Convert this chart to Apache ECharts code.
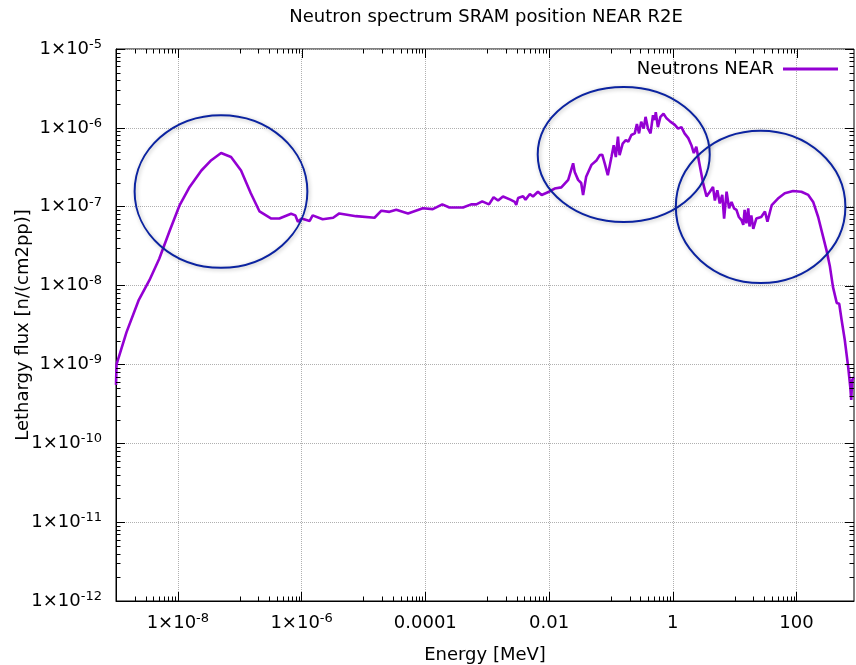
<!DOCTYPE html>
<html><head><meta charset="utf-8">
<script src="https://cdn.jsdelivr.net/npm/echarts@6/dist/echarts.min.js"></script>
<style>html,body{margin:0;padding:0;background:#fff}#c{width:856px;height:665px}</style>
</head><body><div id="c"></div>
<script>
// ---- data ----
const energyMeV = [1.0e-9,1.02e-9,1.48e-9,2.34e-9,3.47e-9,5.0e-9,7.4e-9,
 1.07e-8,1.55e-8,2.4e-8,3.47e-8,5.0e-8,7.24e-8,1.05e-7,
 1.51e-7,2.09e-7,3.24e-7,4.37e-7,6.76e-7,7.94e-7,8.71e-7,
 1.0e-6,1.35e-6,1.51e-6,2.19e-6,3.24e-6,4.07e-6,7.59e-6,
 1.51e-5,1.95e-5,2.63e-5,3.39e-5,5.25e-5,9.12e-5,1.32e-4,
 1.88e-4,2.45e-4,4.07e-4,5.5e-4,6.68e-4,8.32e-4,1.07e-3,
 1.27e-3,1.50e-3,1.80e-3,2.37e-3,2.79e-3,2.95e-3,3.16e-3,
 3.80e-3,4.17e-3,4.90e-3,5.5e-3,6.61e-3,7.59e-3,1.0e-2,
 1.23e-2,1.58e-2,2.04e-2,2.45e-2,2.60e-2,2.95e-2,3.31e-2,
 3.55e-2,3.98e-2,4.84e-2,5.89e-2,6.61e-2,7.24e-2,7.94e-2,
 8.91e-2,0.102,0.111,0.120,0.130,0.138,0.155,
 0.174,0.191,0.214,0.243,0.263,0.285,0.309,
 0.339,0.363,0.398,0.437,0.479,0.513,0.531,
 0.575,0.631,0.708,0.794,0.912,1.07,1.22,
 1.38,1.55,1.78,2.0,2.19,2.40,2.75,
 3.09,3.51,3.98,4.47,4.79,5.25,5.75,
 6.31,6.76,7.41,8.13,8.91,9.77,10.7,
 11.7,12.9,13.8,14.5,15.5,16.6,17.4,
 18.6,20.0,22.4,26.9,30.9,33.9,39.8,
 50.1,64.6,88.1,120,155,186,224,
 269,305,347,389,447,490,537,
 603,684,741,767,794,850];
const lethargyFlux = [5.5e-10,1.0e-9,2.57e-9,6.6e-9,1.17e-8,2.19e-8,5.0e-8,
 1.05e-7,1.78e-7,2.88e-7,3.89e-7,4.79e-7,4.27e-7,2.88e-7,
 1.48e-7,8.7e-8,7.08e-8,7.08e-8,8.13e-8,7.76e-8,6.46e-8,
 7.08e-8,6.61e-8,7.76e-8,6.92e-8,7.24e-8,8.22e-8,7.59e-8,
 7.24e-8,8.91e-8,8.61e-8,9.12e-8,8.22e-8,9.55e-8,9.33e-8,
 1.07e-7,9.77e-8,9.77e-8,1.07e-7,1.07e-7,1.17e-7,1.07e-7,
 1.32e-7,1.20e-7,1.35e-7,1.23e-7,1.15e-7,1.05e-7,1.29e-7,
 1.36e-7,1.23e-7,1.45e-7,1.35e-7,1.55e-7,1.41e-7,1.55e-7,
 1.70e-7,1.76e-7,2.19e-7,3.55e-7,2.75e-7,2.19e-7,2.0e-7,
 1.41e-7,2.40e-7,3.39e-7,3.89e-7,4.52e-7,4.57e-7,3.55e-7,
 2.51e-7,4.27e-7,6.03e-7,4.27e-7,7.76e-7,4.52e-7,6.31e-7,
 7.0e-7,6.68e-7,8.13e-7,8.51e-7,1.12e-6,8.51e-7,1.20e-6,
 9.77e-7,1.38e-6,9.77e-7,8.51e-7,1.45e-6,1.26e-6,1.58e-6,
 1.02e-6,1.38e-6,1.51e-6,1.32e-6,1.20e-6,1.10e-6,9.77e-7,
 1.02e-6,8.51e-7,7.41e-7,6.03e-7,4.79e-7,5.75e-7,3.24e-7,
 2.0e-7,1.35e-7,1.55e-7,1.78e-7,1.20e-7,1.62e-7,1.10e-7,
 1.41e-7,7.08e-8,1.55e-7,9.55e-8,1.15e-7,9.55e-8,9.12e-8,
 7.41e-8,6.76e-8,5.89e-8,9.12e-8,6.17e-8,9.55e-8,5.62e-8,
 7.76e-8,5.25e-8,7.08e-8,7.41e-8,8.71e-8,6.46e-8,1.05e-7,
 1.27e-7,1.48e-7,1.58e-7,1.55e-7,1.41e-7,1.15e-7,7.41e-8,
 4.17e-8,2.82e-8,1.74e-8,9.55e-9,6.03e-9,5.89e-9,3.63e-9,
 2.04e-9,9.33e-10,5.13e-10,3.55e-10,6.31e-10,6.92e-10];

const seriesName = 'Neutrons NEAR';
const xMajorTicks = [1e-8, 1e-6, 1e-4, 1e-2, 1, 100];
const yMajorTicks = [1e-12, 1e-11, 1e-10, 1e-9, 1e-8, 1e-7, 1e-6, 1e-5];
const xRange = [1e-9, 850];
const yRange = [1e-12, 1e-5];
// annotation ellipses (bounding boxes in data units)
const ellipseEnergy = [[2.0e-9, 1.24e-6], [6.56e-3, 3.96], [1.12, 617]];
const ellipseFlux = [[1.68e-8, 1.45e-6], [6.4e-8, 3.3e-6], [1.08e-8, 9.18e-7]];

// minor tick values (gnuplot style)
const xMinorTicks = [];
xMajorTicks.forEach(M => { for (let k = 1; k <= 9; k++) { const v = M * k / 10; if (v >= xRange[0] && v <= xRange[1]) xMinorTicks.push(v); } });
const yMinorTicks = [];
yMajorTicks.slice(0, -1).forEach(d => { for (let k = 2; k <= 9; k++) yMinorTicks.push(d * k); });

const FONT = 'DejaVu Sans';
const TXT = '#000';

function expOf(v) { return Math.round(Math.log10(v)); }
function xLabel(v) {
  const e = expOf(v);
  if (e <= -5) return '1×10{sup|' + e + '}';
  if (e < 0) return '0.' + '0'.repeat(-e - 1) + '1';
  return '1' + '0'.repeat(e);
}
function yLabel(v) { return '1×10{sup|' + expOf(v) + '}'; }
const richSup = { sup: { fontSize: 13, fontFamily: FONT, color: TXT, verticalAlign: 'top', lineHeight: 13 } };

const chart = echarts.init(document.getElementById('c'), null, { renderer: 'canvas' });

function tickRender(params, api) {
  const ch = [];
  const bl = api.coord([xRange[0], yRange[0]]);
  const tr = api.coord([xRange[1], yRange[1]]);
  const x0 = bl[0], y0 = bl[1], x1 = tr[0], y1 = tr[1];
  const MAJ = 9, MIN = 4.5;
  const add = (a, b, c, d) => ch.push({ type: 'line', shape: { x1: a, y1: b, x2: c, y2: d }, style: { stroke: '#000', lineWidth: 1 } });
  const px = v => Math.round(api.coord([v, yRange[0]])[0]) + 0.5;
  const py = v => Math.round(api.coord([xRange[0], v])[1]) + 0.5;
  xMinorTicks.forEach(v => { const x = px(v); add(x, y0, x, y0 - MIN); add(x, y1, x, y1 + MIN); });
  xMajorTicks.forEach(v => { const x = px(v); add(x, y1, x, y1 + MAJ); });
  yMinorTicks.forEach(v => { const y = py(v); add(x0, y, x0 + MIN, y); add(x1, y, x1 - MIN, y); });
  yMajorTicks.forEach(v => { const y = py(v); add(x1, y, x1 - MAJ, y); });
  return { type: 'group', children: ch };
}

function ellipseRender(params, api) {
  const a = api.coord([api.value(0), api.value(1)]);
  const b = api.coord([api.value(2), api.value(3)]);
  return {
    type: 'ellipse',
    shape: { cx: (a[0] + b[0]) / 2, cy: (a[1] + b[1]) / 2, rx: Math.abs(b[0] - a[0]) / 2, ry: Math.abs(b[1] - a[1]) / 2 },
    style: { fill: 'none', stroke: '#0b23a0', lineWidth: 2, shadowBlur: 4, shadowColor: 'rgba(0,0,0,0.28)', shadowOffsetX: 1, shadowOffsetY: 1 }
  };
}

chart.setOption({
  animation: false,
  backgroundColor: '#fff',
  textStyle: { fontFamily: FONT },
  title: {
    text: 'Neutron spectrum SRAM position NEAR R2E',
    left: 486, top: 8, padding: 0, textAlign: 'center',
    textStyle: { fontFamily: FONT, fontSize: 18, fontWeight: 'normal', color: TXT }
  },
  legend: {
    data: [seriesName], right: 18, top: 59, padding: 0, align: 'right',
    icon: 'rect', itemWidth: 55, itemHeight: 3,
    textStyle: { fontFamily: FONT, fontSize: 18, color: TXT, lineHeight: 20, padding: [0, 4, 0, 0] }
  },
  grid: { left: 116, top: 49, width: 738, height: 552, show: true, borderColor: '#000', borderWidth: 1, backgroundColor: 'transparent', containLabel: false, outerBoundsMode: 'none' },
  xAxis: {
    type: 'log', logBase: 10, min: xRange[0], max: xRange[1],
    name: 'Energy [MeV]', nameLocation: 'middle', nameGap: 45, nameMoveOverlap: false,
    nameTextStyle: { fontFamily: FONT, fontSize: 18, color: TXT },
    axisLine: { show: true, lineStyle: { color: '#000', width: 1 } },
    axisTick: { show: true, inside: true, length: 9, customValues: xMajorTicks, lineStyle: { color: '#000' } },
    axisLabel: { customValues: xMajorTicks, margin: 11, formatter: xLabel, fontFamily: FONT, fontSize: 18, color: TXT, lineHeight: 22, rich: richSup },
    splitLine: { show: true, lineStyle: { color: '#b0b0b0', type: 'dotted', width: 1 } }
  },
  yAxis: {
    type: 'log', logBase: 10, min: yRange[0], max: yRange[1], interval: 1,
    name: 'Lethargy flux [n/(cm2pp)]', nameLocation: 'middle', nameGap: 84, nameRotate: 90, nameMoveOverlap: false,
    nameTextStyle: { fontFamily: FONT, fontSize: 18, color: TXT },
    axisLine: { show: true, lineStyle: { color: '#000', width: 1 } },
    axisTick: { show: true, inside: true, length: 9, lineStyle: { color: '#000' } },
    axisLabel: { margin: 14, formatter: yLabel, fontFamily: FONT, fontSize: 18, color: TXT, lineHeight: 22, rich: richSup },
    splitLine: { show: true, lineStyle: { color: '#b0b0b0', type: 'dotted', width: 1 } }
  },
  series: [
    {
      name: seriesName, type: 'line', showSymbol: false, symbol: 'none',
      data: energyMeV.map((e, i) => [e, lethargyFlux[i]]),
      lineStyle: { color: '#9400d3', width: 2.6 }, itemStyle: { color: '#9400d3' },
      z: 3, clip: true
    },
    {
      name: 'ticks', type: 'custom', renderItem: tickRender, silent: true, clip: false, z: 5,
      data: [[1, 1e-8]], encode: { x: 0, y: 1 }
    },
    {
      name: 'circles', type: 'custom', renderItem: ellipseRender, silent: true, clip: false, z: 6,
      data: ellipseEnergy.map((e, i) => [e[0], ellipseFlux[i][0], e[1], ellipseFlux[i][1]]),
      encode: { x: [0, 2], y: [1, 3] }
    }
  ]
});
</script></body></html>
